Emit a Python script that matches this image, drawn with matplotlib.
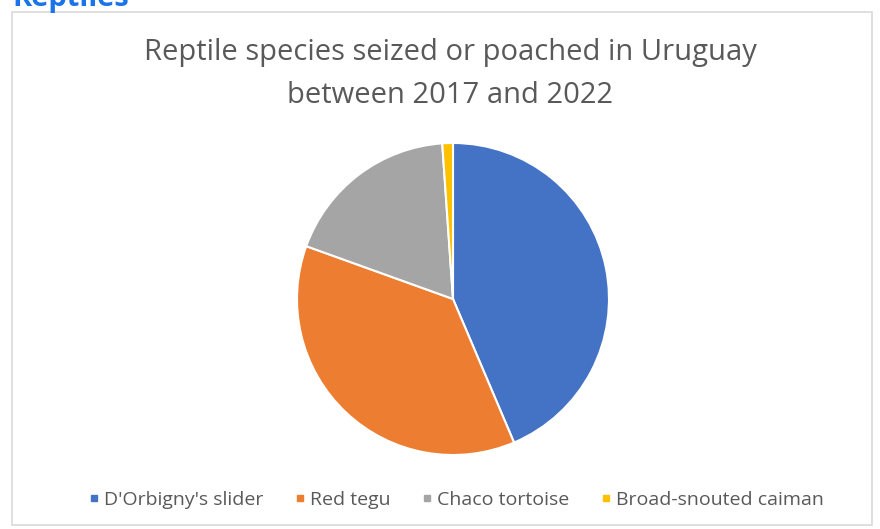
import matplotlib
matplotlib.use("Agg")
import matplotlib.pyplot as plt
from matplotlib.patches import Rectangle
from matplotlib.lines import Line2D

categories = ["D'Orbigny's slider", "Red tegu", "Chaco tortoise", "Broad-snouted caiman"]
values = [43.6, 36.9, 18.4, 1.1]
colors = ["#4472C4", "#ED7D31", "#A5A5A5", "#FFC000"]

W, H = 880, 529
fig = plt.figure(figsize=(W / 100, H / 100), dpi=100)
fig.patch.set_facecolor("white")

# chart border
fig.patches.append(Rectangle((12 / W, 4 / H), (872 - 12) / W, (517 - 4) / H,
                             transform=fig.transFigure, fill=False,
                             edgecolor="#D9D9D9", linewidth=1.2))

# partially cut heading (cut off in the reference too)
fig.text(12 / W, 1 - 6 / H, "Reptiles", color="#1A73E8", fontsize=21,
         fontweight="bold", family="Open Sans", ha="left", va="baseline")

# title
fig.text(450 / W, 1 - 74 / H,
         "Reptile species seized or poached in Uruguay\nbetween 2017 and 2022",
         ha="center", va="center", fontsize=21, color="#595959",
         family="Open Sans", linespacing=1.6)

cx, cy, r = 453, 299, 156
ax = fig.add_axes([(cx - r) / W, (H - cy - r) / H, 2 * r / W, 2 * r / H])
ax.pie(values, colors=colors, startangle=90, counterclock=False,
       wedgeprops=dict(edgecolor="white", linewidth=1.5))
ax.set_xlim(-1, 1)
ax.set_ylim(-1, 1)
ax.set_aspect("equal")
ax.axis("off")

handles = [Line2D([0], [0], marker="s", linestyle="", markersize=5,
                  markerfacecolor=c, markeredgecolor=c) for c in colors]
fig.legend(handles, categories, loc="center", bbox_to_anchor=(455 / W, 1 - 500 / H),
           ncol=4, frameon=False, prop=dict(family="Open Sans", size=14),
           labelcolor="#595959", handletextpad=0.1, columnspacing=1.5,
           handlelength=0.8)

fig.savefig("out.png", dpi=100)
